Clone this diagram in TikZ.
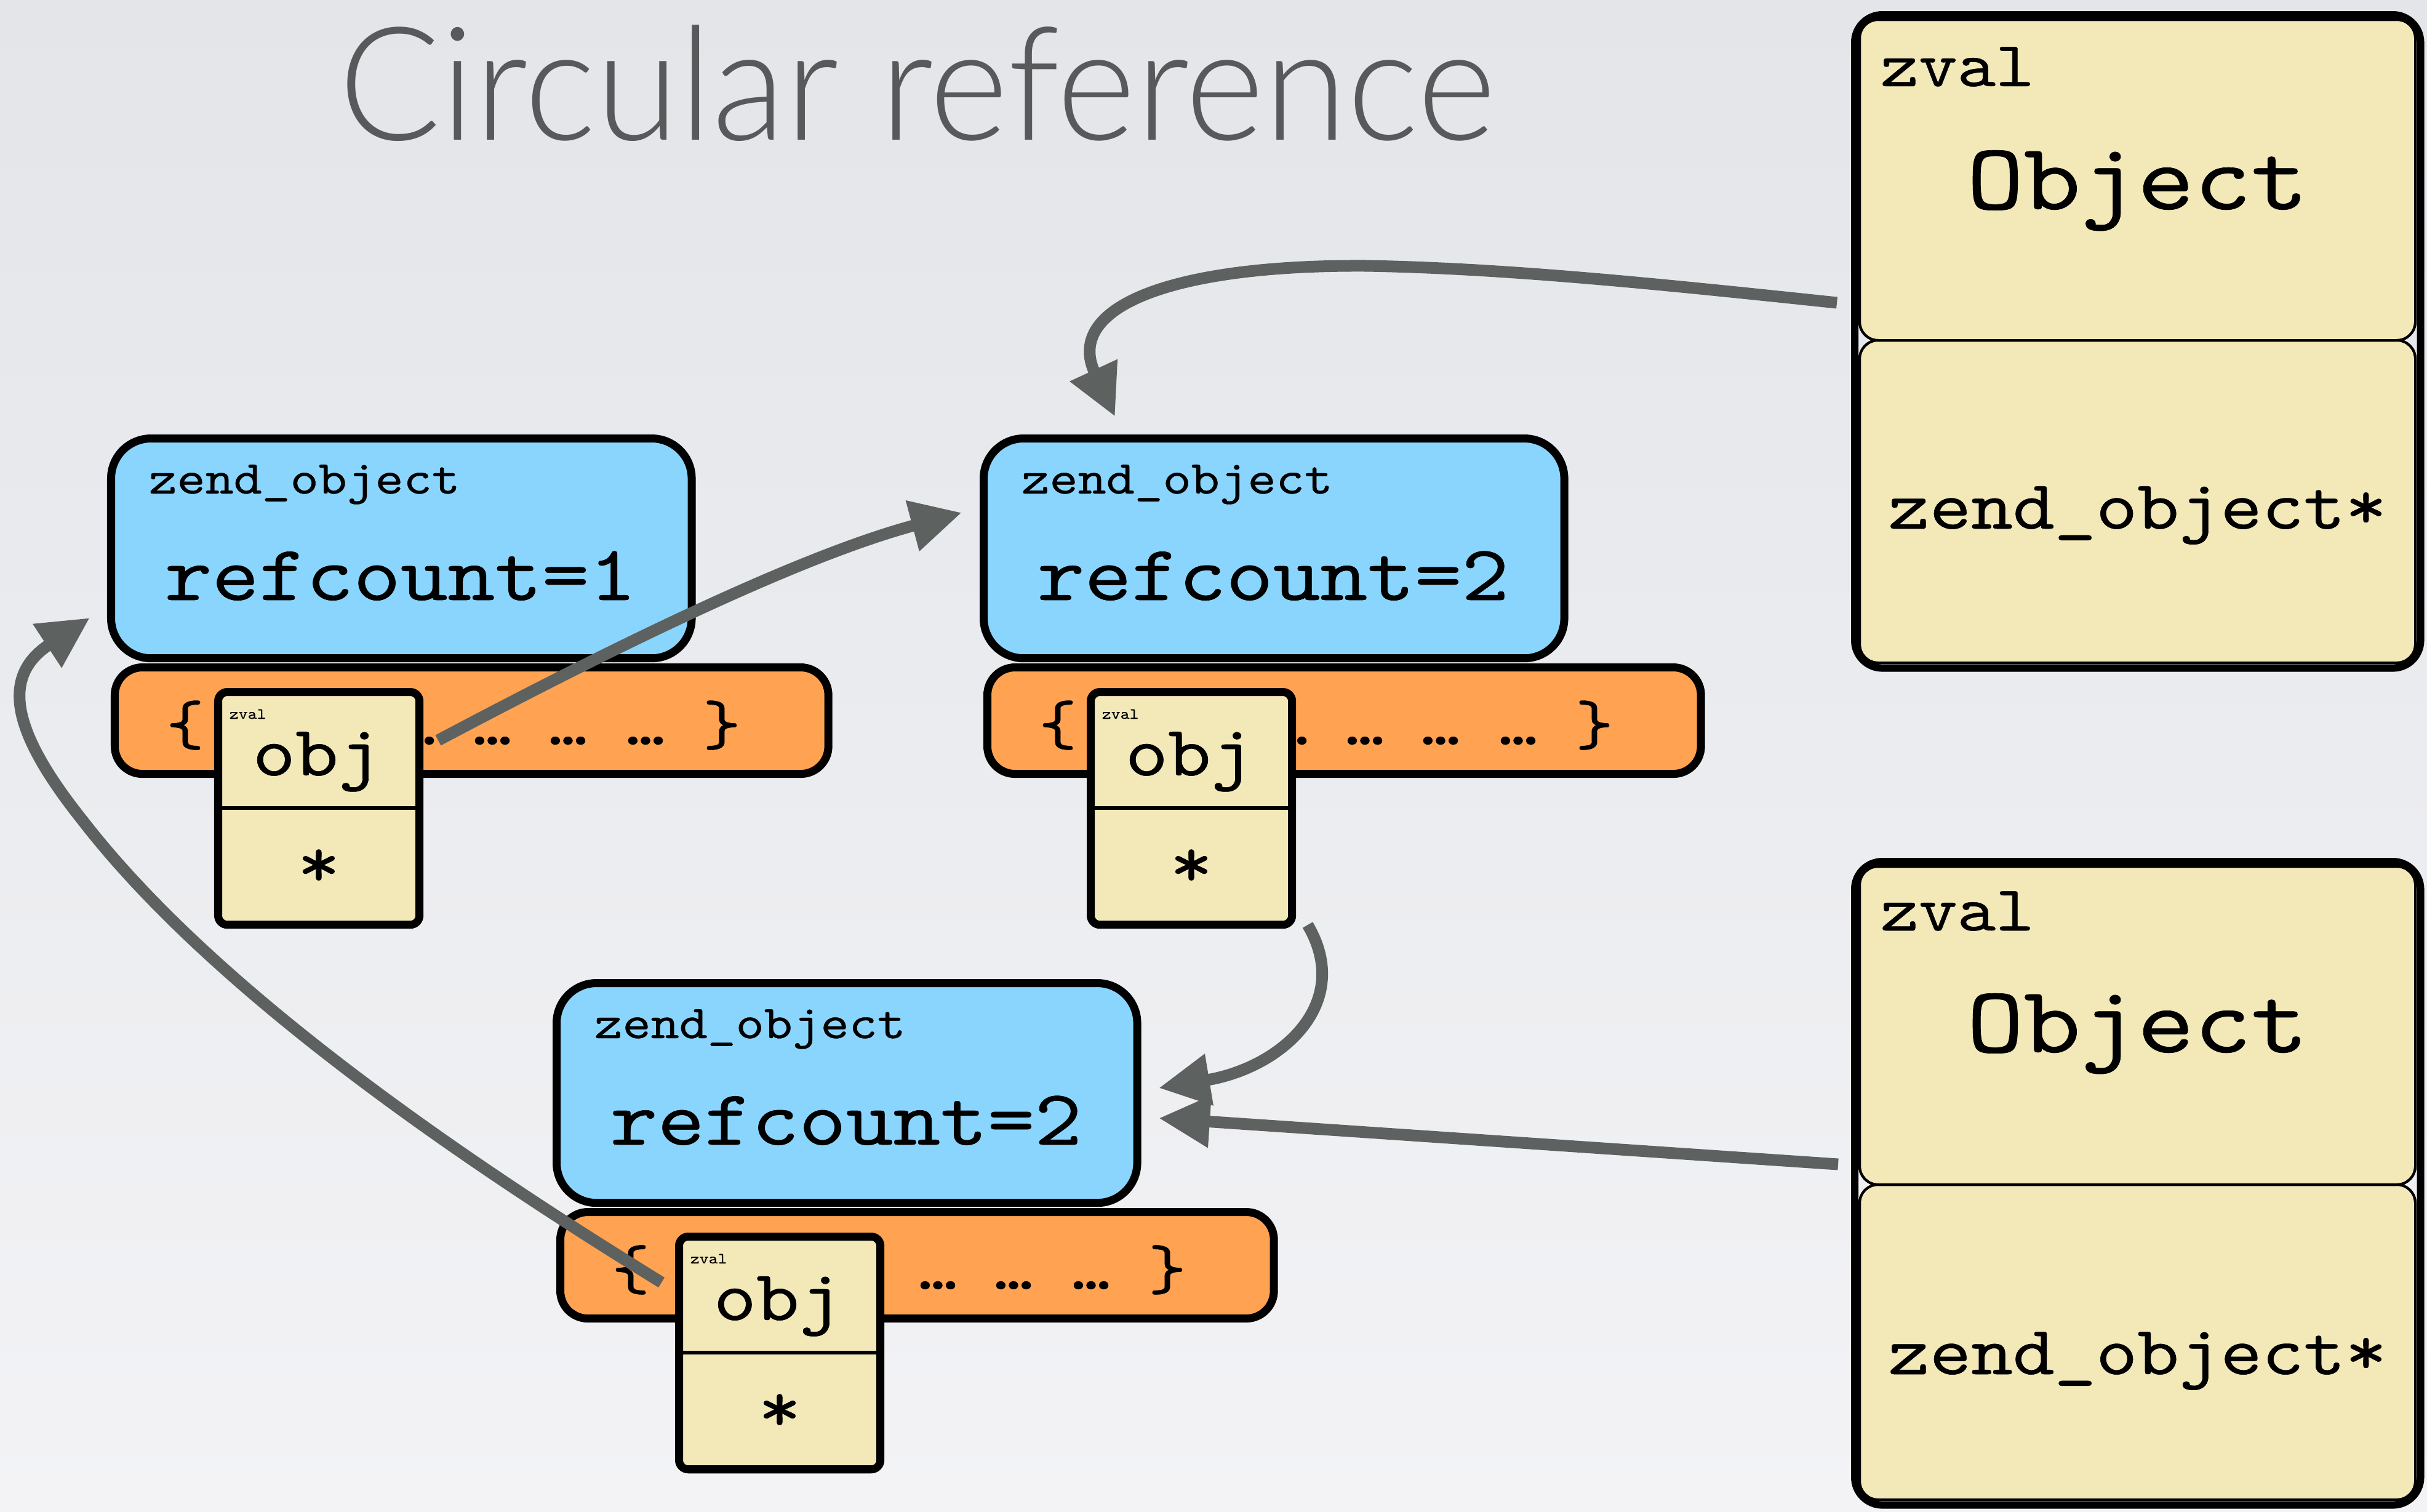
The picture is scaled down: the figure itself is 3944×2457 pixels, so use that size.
\documentclass[tikz,border=0pt]{standalone}
\usepackage{fontspec}
\setmainfont{Liberation Serif}
\newfontfamily\monofont{lmmono10-regular}[Extension=.otf,FakeBold=0.45]
\newfontfamily\titlefont{Lato Light}
\usetikzlibrary{arrows.meta,calc}
\definecolor{bgtop}{RGB}{227,229,232}
\definecolor{bgbot}{RGB}{243,243,246}
\definecolor{zblue}{RGB}{138,213,253}
\definecolor{zorange}{RGB}{255,163,82}
\definecolor{zyellow}{RGB}{242,232,184}
\definecolor{arrowgray}{RGB}{93,97,96}
\definecolor{titlegray}{RGB}{88,89,91}
\newcommand\cw[1]{\scalebox{1.143}[1]{#1}}
\tikzset{
  boxline/.style={draw=black,line width=0.13cm},
  bluebox/.style={boxline,fill=zblue,rounded corners=0.65cm,minimum width=9.43cm,minimum height=3.57cm,anchor=north west,inner sep=0pt,outer sep=0pt},
  orangebox/.style={boxline,fill=zorange,rounded corners=0.45cm,minimum width=11.59cm,minimum height=1.73cm,anchor=north west,inner sep=0pt,outer sep=0pt},
  zvalbox/.style={boxline,fill=zyellow,rounded corners=0.15cm,minimum width=3.27cm,minimum height=3.78cm,anchor=north west,inner sep=0pt,outer sep=0pt},
  bigframe/.style={draw=black,line width=0.12cm,rounded corners=0.45cm,minimum width=9.19cm,anchor=north west,inner sep=0pt,outer sep=0pt},
  bigcell/.style={fill=zyellow,draw=black,line width=0.04cm,rounded corners=0.3cm},
  lbl/.style={font=\monofont\fontsize{21.8}{24}\selectfont,inner sep=0pt,anchor=base west},
  cnt/.style={font=\monofont\fontsize{36.3}{40}\selectfont,inner sep=0pt,anchor=base},
  brc/.style={font=\monofont\fontsize{29.3}{32}\selectfont,inner sep=0pt,anchor=base},
  tinylbl/.style={font=\monofont\fontsize{7.1}{8}\selectfont,inner sep=0pt,anchor=base west},
  objt/.style={font=\monofont\fontsize{33}{36}\selectfont,inner sep=0pt,anchor=base},
  bzlbl/.style={font=\monofont\fontsize{29.6}{32}\selectfont,inner sep=0pt,anchor=base west},
  bzobj/.style={font=\monofont\fontsize{43.8}{48}\selectfont,inner sep=0pt,anchor=base},
  bzptr/.style={font=\monofont\fontsize{32}{36}\selectfont,inner sep=0pt,anchor=base},
  arr/.style={draw=arrowgray,line width=0.19cm,-{Triangle[length=0.83cm,width=0.8cm]}}
}
\newcommand\zobj[5]{%
  \node[orangebox] (#1o) at (#2+12.5,#3+378.5) {};
  \node[bluebox] (#1b) at (#2+6.5,#3+6.5) {};
  \node[lbl] (#1t) at (#2+67,#3+96) {\cw{zend\_object}};
  \node[cnt] (#1c) at (#2+477,#3+269) {\cw{refcount=#4}};
  \node[brc] (#1e0) at (#2+127,#3+504) {\cw{\{}};
  \node[brc] (#1e1) at (#2+503,#3+504) {\cw{…}};
  \node[brc] (#1e2) at (#2+626,#3+504) {\cw{…}};
  \node[brc] (#1e3) at (#2+749,#3+504) {\cw{…}};
  \node[brc] (#1e4) at (#2+875,#3+504) {\cw{…}};
  \node[brc] (#1e5) at (#2+999,#3+504) {\cw{\}}};
  \node[zvalbox] (#1z) at (#2+#5+180.5,#3+418.5) {};
  \draw[line width=0.06cm] (#2+#5+187,#3+607) -- (#2+#5+501,#3+607);
  \node[tinylbl] (#1zl) at (#2+#5+198,#3+462) {\cw{zval}};
  \node[objt] (#1zo) at (#2+#5+341,#3+554) {\cw{obj}};
  \node[objt] (#1zs) at (#2+#5+344,#3+735) {\cw{*}};
}
\begin{document}
\begin{tikzpicture}[x=0.01cm,y=-0.01cm]
\useasboundingbox (0,0) rectangle (3944,2457);
\shade[top color=bgtop,bottom color=bgbot] (0,0) rectangle (3944,2457);

\node[anchor=base west,inner sep=0pt,font=\titlefont\fontsize{73}{80}\selectfont,text=titlegray] (title) at (550,227) {\scalebox{0.958}[1]{Circular reference}};

\zobj{A}{174}{706}{1}{0}
\zobj{B}{1592}{706}{2}{0}
\zobj{C}{898}{1591}{2}{25}

% right zval boxes
\fill[bigcell] (3022,32) rectangle (3925,553);
\fill[bigcell] (3022,553) rectangle (3925,1077);
\draw[bigcell,fill=none] (3022,32) rectangle (3925,553);
\draw[bigcell,fill=none] (3022,553) rectangle (3925,1077);
\node[bigframe,minimum height=10.61cm] (Z1) at (3014,24) {};
\node[bzlbl] (Z1l) at (3055,140) {\cw{zval}};
\node[bzobj] (Z1o) at (3473.5,340) {\cw{Object}};
\node[bzptr] (Z1p) at (3473.5,859) {\cw{zend\_object*}};

\fill[bigcell] (3022,1408) rectangle (3925,1925);
\fill[bigcell] (3022,1925) rectangle (3925,2437);
\draw[bigcell,fill=none] (3022,1408) rectangle (3925,1925);
\draw[bigcell,fill=none] (3022,1925) rectangle (3925,2437);
\node[bigframe,minimum height=10.45cm] (Z2) at (3014,1400) {};
\node[bzlbl] (Z2l) at (3055,1512) {\cw{zval}};
\node[bzobj] (Z2o) at (3473.5,1710) {\cw{Object}};
\node[bzptr] (Z2p) at (3473.5,2233) {\cw{zend\_object*}};

% connector ends
\coordinate (s1) at (2985,492);
\coordinate (m1) at (2220,432);
\coordinate (t1) at (1812,677);
\coordinate (s2) at (712,1203);
\coordinate (t2) at (1563,833);
\coordinate (s3) at (2125,1503);
\coordinate (t3) at (1883,1768);
\coordinate (s4) at (2987,1892);
\coordinate (t4) at (1883,1817);
\coordinate (s5) at (1075,2084);
\coordinate (m5) at (134,1333);
\coordinate (t5) at (146,1004);

\draw[arr] (s1) .. controls (2700,462) and (2450,436) .. (m1) .. controls (1900,430) and (1730,500) .. (t1);
\draw[arr] (s2) .. controls (963,1070) and (1287,907) .. (t2);
\draw[arr] (s3) .. controls (2200,1630) and (2083,1735) .. (t3);
\draw[arr] (s4) -- (t4);
\draw[arr] (s5) .. controls (775,1899) and (356,1620) .. (m5) .. controls (20,1190) and (0,1100) .. (t5);
\end{tikzpicture}
\end{document}
